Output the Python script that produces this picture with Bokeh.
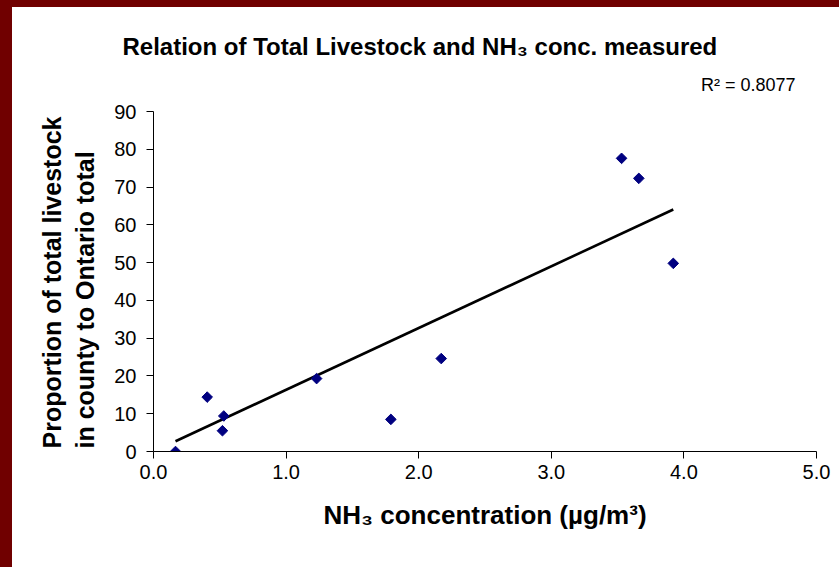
import numpy as np
from bokeh.plotting import figure
from bokeh.models import Range1d, FixedTicker, NumeralTickFormatter, Title, Label, Spacer, ColumnDataSource
from bokeh.layouts import row, column
from bokeh.embed import file_html
from bokeh.resources import INLINE

# Data
nh3_conc = [0.166, 0.405, 0.52, 0.53, 1.23, 1.79, 2.17, 3.53, 3.66, 3.92]
livestock_share = [0.0, 14.4, 5.5, 9.4, 19.3, 8.5, 24.6, 77.6, 72.3, 49.8]
x_ticks = [0, 1, 2, 3, 4, 5]
y_ticks = [0, 10, 20, 30, 40, 50, 60, 70, 80, 90]
r2_text = "R\u00b2 = 0.8077"
title_text = "Relation of Total Livestock and NH\u2083 conc. measured"
x_title = "NH\u2083 concentration (\u00b5g/m\u00b3)"
y_title = "Proportion of total livestock\nin county to Ontario total"

FONT = "Liberation Sans"
MAROON = "#700000"

# layout constants (pixels)
FIG_W, FIG_H = 827, 560
B_LEFT, B_RIGHT, B_TOP, B_BOTTOM = 141, 23, 63, 116
AXIS_PX = 340.0                      # pixel height of the 0..90 axis
frame_h = FIG_H - B_TOP - B_BOTTOM
px_per_unit = AXIS_PX / 90.0
y_top = frame_h / px_per_unit
px_per_x = 663 / 5.0

# linear trend line (through origin, as drawn in the chart)
xa = np.array(nh3_conc)
ya = np.array(livestock_share)
slope = float((xa * ya).sum() / (xa * xa).sum())
trend_x = [float(xa.min()), float(xa.max())]
trend_y = [slope * v for v in trend_x]

p = figure(width=FIG_W, height=FIG_H, output_backend="svg", toolbar_location=None,
           x_range=Range1d(0, 5), y_range=Range1d(0, y_top),
           min_border_left=B_LEFT, min_border_right=B_RIGHT,
           min_border_top=B_TOP, min_border_bottom=B_BOTTOM)
p.background_fill_color = "white"
p.border_fill_color = "white"
p.outline_line_color = None
p.xgrid.grid_line_color = None
p.ygrid.grid_line_color = None

p.line(trend_x, trend_y, line_color="black", line_width=2.6)
src = ColumnDataSource(dict(x=nh3_conc, y=livestock_share))
p.scatter("x", "y", source=src, marker="square", angle=np.pi / 4, size=7.5,
          fill_color="#000080", line_color="#000080")

for ax in (p.xaxis[0], p.yaxis[0]):
    ax.axis_line_color = "black"
    ax.axis_line_width = 1
    ax.major_tick_in = 0
    ax.major_tick_out = 7
    ax.major_tick_line_color = "black"
    ax.minor_tick_line_color = None
    ax.major_label_text_font = FONT
    ax.major_label_text_font_size = "20px"
    ax.major_label_text_color = "black"

p.xaxis.ticker = FixedTicker(ticks=x_ticks)
p.xaxis.formatter = NumeralTickFormatter(format="0.0")
p.xaxis.major_label_standoff = 6
p.xaxis.axis_label = x_title
p.xaxis.axis_label_text_font = FONT
p.xaxis.axis_label_text_font_style = "bold"
p.xaxis.axis_label_text_color = "black"
p.xaxis.axis_label_text_font_size = "26px"
p.xaxis.axis_label_standoff = 18

p.yaxis.ticker = FixedTicker(ticks=y_ticks)
p.yaxis.bounds = (0, 90)
p.yaxis.major_label_standoff = 10

# y axis title (two lines, starting at the bottom of the axis)
p.add_layout(Title(text=y_title, align="left", offset=3, standoff=24, vertical_align="bottom",
                   text_font=FONT, text_font_size="25px", text_font_style="bold",
                   text_line_height=1.2, text_color="black"), "left")

# chart title above the frame
p.add_layout(Title(text=title_text, align="left", offset=-31, standoff=22, vertical_align="bottom",
                   text_font=FONT, text_font_size="24px", text_font_style="bold",
                   text_color="black"), "above")

# R^2 label
p.add_layout(Label(x=(795 - 153) / px_per_x, y=(451 - 84.5) / px_per_unit, text=r2_text,
                   text_align="right", text_baseline="alphabetic",
                   text_font=FONT, text_font_size="18px", text_color="black"))

left = Spacer(width=12, height=567, styles={"background-color": MAROON})
top = Spacer(width=827, height=7, styles={"background-color": MAROON})
layout = row(left, column(top, p, spacing=0), spacing=0)

open("out.html", "w").write(file_html(layout, INLINE))
